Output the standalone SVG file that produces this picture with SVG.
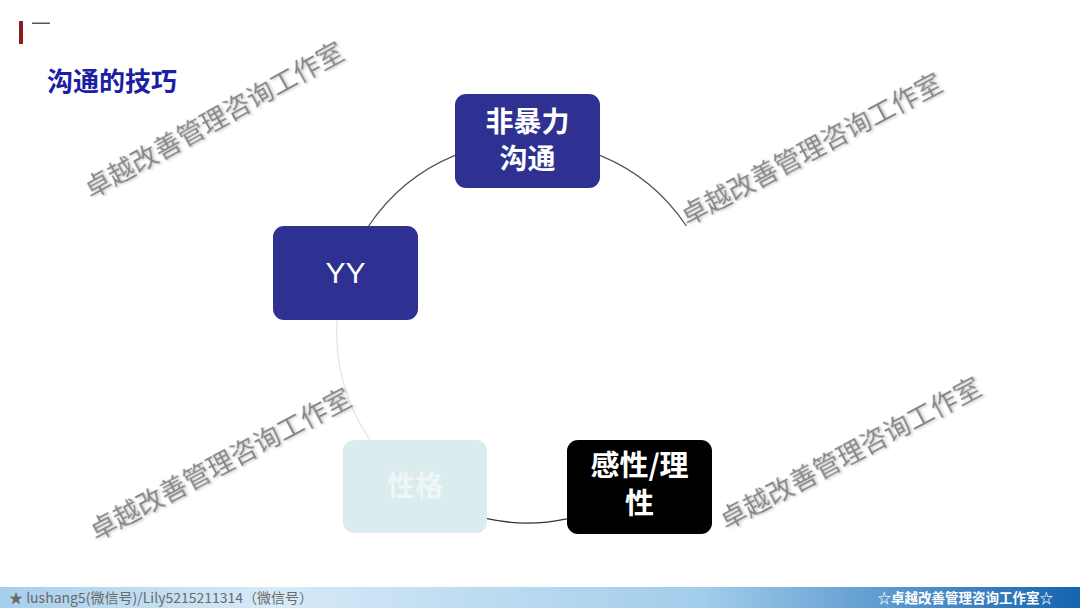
<svg xmlns="http://www.w3.org/2000/svg" width="1080" height="608" viewBox="0 0 1080 608">
<defs>
<style>
.cjk{font-family:"Noto Sans CJK SC","Noto Sans",sans-serif}
.node{stroke:none}
.lbl{font-family:"Noto Sans CJK SC","Noto Sans",sans-serif;font-weight:bold;fill:#ffffff;text-anchor:middle}
.arc{fill:none;stroke-width:1.3}
.wm{font-family:"Noto Sans CJK SC","Noto Sans",sans-serif;font-size:26.5px;fill:#858585;filter:url(#sh)}
</style>
<filter id="sh" x="-5%" y="-20%" width="110%" height="140%">
<feDropShadow dx="1.5" dy="1.5" stdDeviation="0.8" flood-color="#c8c8c8" flood-opacity="0.9"/>
</filter>
<linearGradient id="foot" x1="0" y1="0" x2="1" y2="0">
<stop offset="0" stop-color="#a6cfec"/>
<stop offset="0.25" stop-color="#d7eaf7"/>
<stop offset="0.65" stop-color="#a2cdeb"/>
<stop offset="1" stop-color="#1464b0"/>
</linearGradient>
</defs>
<rect width="1080" height="608" fill="#ffffff"/>
<g id="header">
<rect x="19" y="21" width="4" height="23" fill="#8b1c1c"/>
<rect x="32" y="22.5" width="18" height="1.5" fill="#555555"/>
<text x="47" y="91" class="cjk" font-size="26" font-weight="bold" fill="#1c1ea3">沟通的技巧</text>
</g>
<g id="connectors">
<path class="arc" stroke="#555555" d="M368.6,226 A191,191 0 0 1 455,155.3"/>
<path class="arc" stroke="#555555" d="M600,155.3 A191,191 0 0 1 686.4,226"/>
<path class="arc" stroke="#dde8e8" d="M370,440 A191,191 0 0 1 336.9,320"/>
<path class="arc" stroke="#333333" d="M487,518.7 A191,191 0 0 0 567,518.9"/>
</g>
<g id="node-nvc">
<rect class="node" x="455" y="94" width="145" height="94" rx="11" fill="#2e3192"/>
<text class="lbl" x="527.5" y="132" font-size="28">非暴力</text>
<text class="lbl" x="527.5" y="169" font-size="28">沟通</text>
</g>
<g id="node-yy">
<rect class="node" x="273" y="226" width="145" height="94" rx="11" fill="#2e3192"/>
<text class="lbl" x="345.5" y="283" font-size="30" style="font-family:'Liberation Sans',Arial,sans-serif;font-weight:normal">YY</text>
</g>
<g id="node-xingge">
<rect class="node" x="343" y="440" width="144" height="93" rx="11" fill="#dbecee"/>
<text class="lbl" x="415" y="496" font-size="28" style="fill:#eef6f6">性格</text>
</g>
<g id="node-ganxing">
<rect class="node" x="567" y="440" width="145" height="94" rx="11" fill="#000000"/>
<text class="lbl" x="639.5" y="476" font-size="29">感性/理</text>
<text class="lbl" x="639.5" y="514" font-size="29">性</text>
</g>
<g id="watermarks">
<text class="wm" transform="translate(91,199) rotate(-29)">卓越改善管理咨询工作室</text>
<text class="wm" transform="translate(687,226) rotate(-28)">卓越改善管理咨询工作室</text>
<text class="wm" transform="translate(96,541) rotate(-28)">卓越改善管理咨询工作室</text>
<text class="wm" transform="translate(726,530) rotate(-28)">卓越改善管理咨询工作室</text>
</g>
<g id="footer">
<rect x="0" y="587" width="1080" height="21" fill="url(#foot)"/>
<text x="9" y="603" class="cjk" font-size="14" fill="#6a6a6a">★ lushang5(微信号)/Lily5215211314（微信号）</text>
<text x="1053" y="603" class="cjk" font-size="13.5" font-weight="bold" fill="#ffffff" text-anchor="end">☆卓越改善管理咨询工作室☆</text>
</g>
</svg>
